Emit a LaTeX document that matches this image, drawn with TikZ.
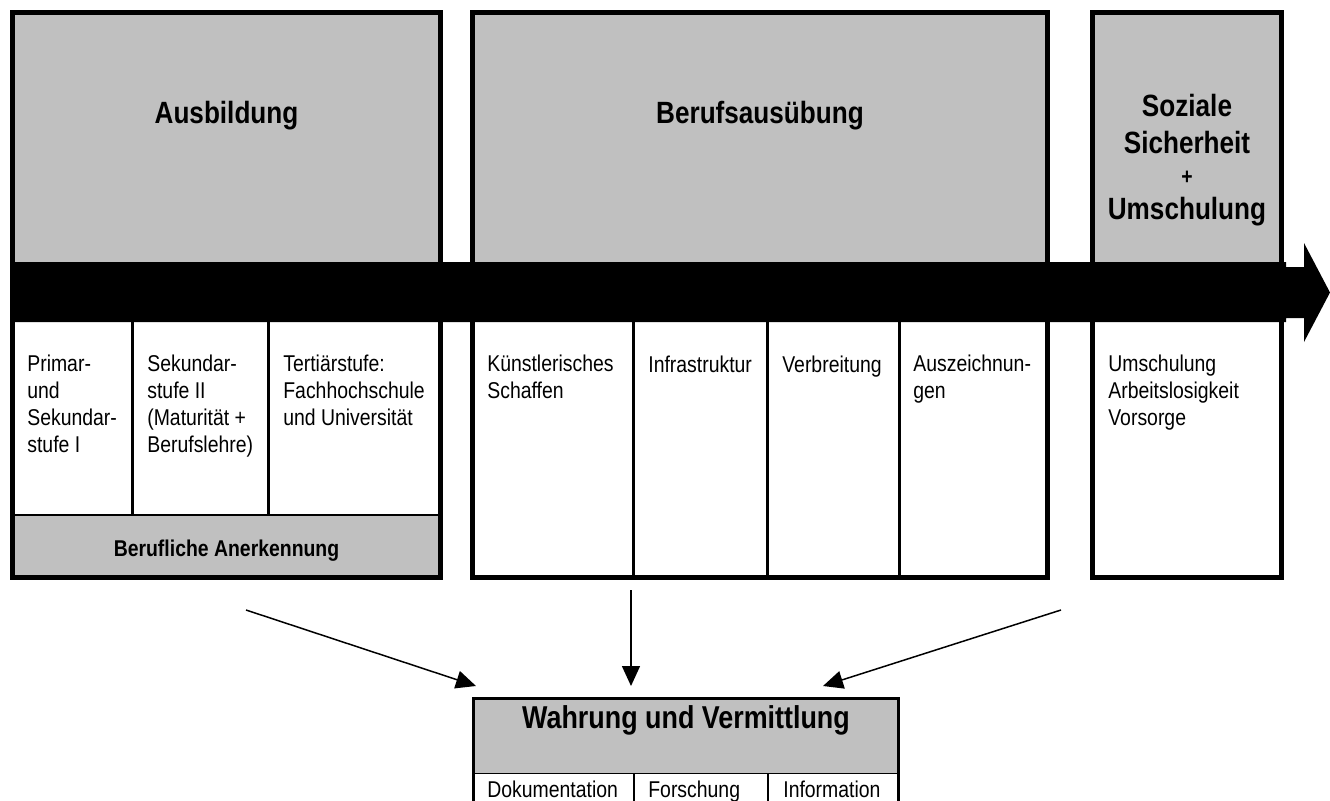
\documentclass[tikz,border=0pt]{standalone}
\usepackage{fontspec}
\setmainfont{Liberation Sans}[FakeStretch=0.85]
\usetikzlibrary{positioning,arrows.meta}
\definecolor{panel-gray}{gray}{0.753}
\newdimen\dgunit
\setlength{\dgunit}{0.02cm}
\tikzstyle{panelstyle}=[shape=rectangle,fill=panel-gray,inner sep=0pt,outer sep=0pt,anchor=north west]
\tikzstyle{framestyle}=[shape=rectangle,draw,line width=0.1cm,inner sep=0pt,outer sep=0pt,anchor=north west]
\tikzstyle{thinframestyle}=[framestyle,line width=0.06cm]
\tikzstyle{titlestyle}=[font=\fontsize{17.5}{21}\selectfont\bfseries,anchor=base,inner sep=0pt]
\tikzstyle{bigtitlestyle}=[titlestyle,font=\fontsize{18}{21}\selectfont\bfseries]
\tikzstyle{boldstyle}=[font=\fontsize{13}{15.2}\selectfont\bfseries,anchor=base,inner sep=0pt]
\tikzstyle{cellstyle}=[font=\fontsize{13}{15.2}\selectfont,align=left,anchor=base west,inner sep=0pt]
\tikzstyle{linkstyle}=[line width=0.03cm,-{Triangle[length=0.4cm,width=0.36cm]}]
\newcommand{\dgpanel}[5]{ \node [style=panelstyle,minimum width=#4\dgunit,minimum height=#5\dgunit] (#1) at (#2,#3) {}; }
\newcommand{\dgframe}[6]{ \node [style=#6,minimum width=#4\dgunit,minimum height=#5\dgunit] (#1) at (#2,#3) {}; }
\newcommand{\dgdivider}[4]{ \draw [line width=#4] (#1,#2) -- (#1,#3); }
\newcommand{\dgcell}[4]{ \node [style=cellstyle] (#1) at (#2,{345.33+#3*26.67}) {#4}; }
\newcommand{\dgtitle}[5]{ \node [style=#5] (#1) at (#2,#3) {#4}; }

\begin{document}
\begin{tikzpicture}[x=\dgunit,y=-\dgunit]
\useasboundingbox (0,0) rectangle (1330,801);
\dgpanel{ausbtop}{12.5}{12.5}{428}{249.5} %
\dgpanel{berutop}{472.5}{12.5}{574.5}{249.5} %
\dgpanel{soztop}{1092.5}{12.5}{189}{249.5} %
\dgpanel{anerkband}{12.5}{515}{428}{62.5} %
\dgpanel{wahrtop}{473}{698.5}{425.7}{74.8} %
\fill (10,262) -- (1286,262) -- (1286,267) -- (1304,267) -- (1304,243) -- (1330,292.5) -- (1304,342) -- (1304,318) -- (1286,318) -- (1286,322) -- (10,322) -- cycle;
\dgframe{ausb}{12.5}{12.5}{428}{565}{framestyle} %
\dgframe{beru}{472.5}{12.5}{574.5}{565}{framestyle} %
\dgframe{soz}{1092.5}{12.5}{189}{565}{framestyle} %
\dgframe{wahr}{473}{698.5}{425.7}{140}{thinframestyle} %
\draw [line width=0.04cm] (12.5,515) -- (440.5,515); %
\draw [line width=0.03cm] (473,773.3) -- (898.7,773.3); %
\dgdivider{132.5}{322}{515}{0.05cm} %
\dgdivider{268.5}{322}{515}{0.05cm} %
\dgdivider{633.5}{322}{577.5}{0.05cm} %
\dgdivider{767.3}{322}{577.5}{0.05cm} %
\dgdivider{899.5}{322}{577.5}{0.05cm} %
\dgdivider{634.3}{773.3}{840}{0.04cm} %
\dgdivider{768}{773.3}{840}{0.04cm} %
\dgtitle{ausbtext}{226.5}{123.5}{Ausbildung}{titlestyle} %
\dgtitle{berutext}{760}{123.5}{Berufsausübung}{titlestyle} %
\dgtitle{sozline1}{1187}{116}{Soziale}{titlestyle} %
\dgtitle{sozline2}{1187}{153.5}{Sicherheit}{titlestyle} %
\dgtitle{sozplus}{1187}{184}{+}{boldstyle} %
\dgtitle{sozline3}{1187}{219}{Umschulung}{titlestyle} %
\dgtitle{anerktext}{226.5}{556}{Berufliche Anerkennung}{boldstyle} %
\dgtitle{wahrtext}{686}{728}{Wahrung und Vermittlung}{bigtitlestyle} %
\dgcell{primsek}{27}{4}{Primar-\\und\\Sekundar-\\stufe I} %
\dgcell{sekzwei}{147}{4}{Sekundar-\\stufe II\\(Maturität +\\Berufslehre)} %
\dgcell{tertiaer}{283}{3}{Tertiärstufe:\\Fachhochschule\\und Universität} %
\dgcell{schaffen}{487}{2}{Künstlerisches\\Schaffen} %
\dgcell{infra}{648}{1}{Infrastruktur} %
\dgcell{verbreit}{782}{1}{Verbreitung} %
\dgcell{auszeich}{913}{2}{Auszeichnun-\\gen} %
\dgcell{umschul}{1108}{3}{Umschulung\\Arbeitslosigkeit\\Vorsorge} %
\node [style=cellstyle] (doku) at (487,797) {Dokumentation}; %
\node [style=cellstyle] (forsch) at (648,797) {Forschung}; %
\node [style=cellstyle] (info) at (783,797) {Information}; %
\coordinate (ausbsrc) at (246,610); %
\coordinate (ausbdst) at (476,686); %
\coordinate (berusrc) at (631,590); %
\coordinate (berudst) at (631,686); %
\coordinate (sozsrc) at (1061,610); %
\coordinate (sozdst) at (823,686); %
\draw [style=linkstyle] (ausbsrc) -- (ausbdst); %
\draw [style=linkstyle] (berusrc) -- (berudst); %
\draw [style=linkstyle] (sozsrc) -- (sozdst); %
\end{tikzpicture}
\end{document}
